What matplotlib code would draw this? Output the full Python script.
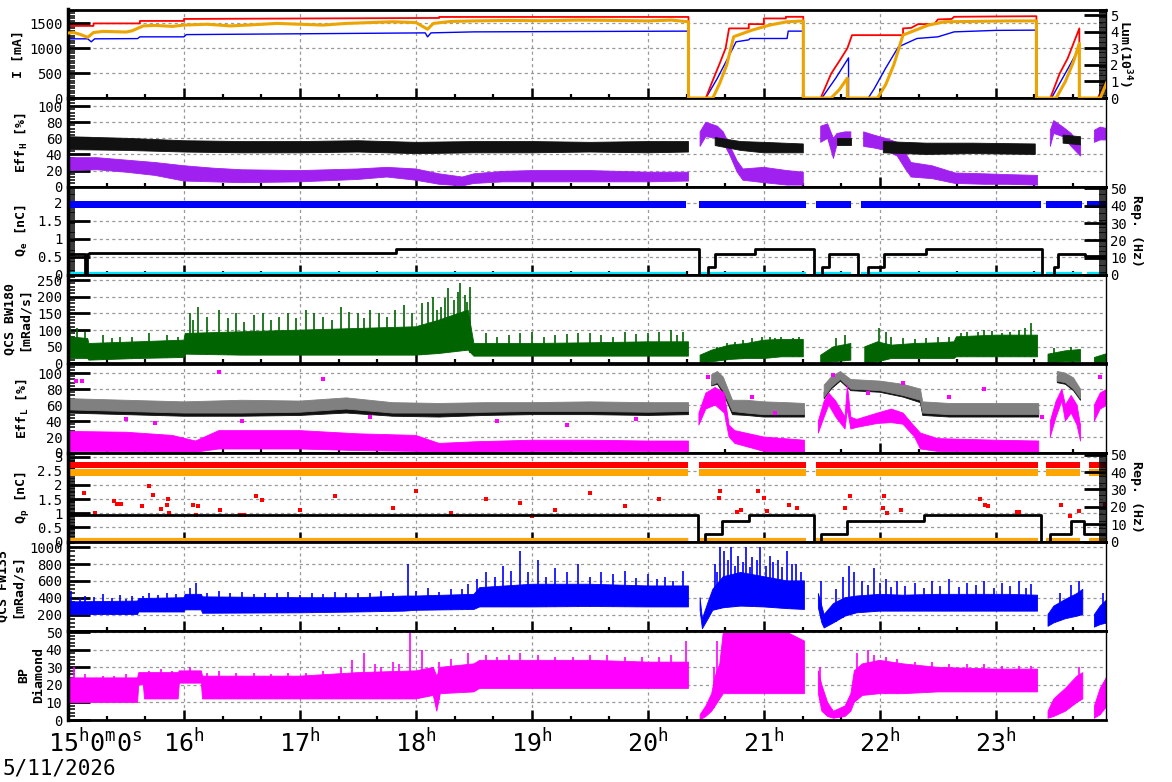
import matplotlib.pyplot as plt
import numpy as np
from matplotlib.ticker import MultipleLocator, FormatStrFormatter

plt.rcParams['font.family'] = ['DejaVu Sans Mono', 'DejaVu Sans']
plt.rcParams['mathtext.fontset'] = 'custom'
plt.rcParams['mathtext.rm'] = 'DejaVu Sans Mono'
plt.rcParams['mathtext.it'] = 'DejaVu Sans Mono:italic'
plt.rcParams['mathtext.bf'] = 'DejaVu Sans Mono:bold'

nan = np.nan

# ---------------- data (time in hours, 5/11/2026) ----------------
hours = [15, 16, 17, 18, 19, 20, 21, 22, 23]
hour_labels = ['', r'$\mathrm{16^{h}}$', r'$\mathrm{17^{h}}$', r'$\mathrm{18^{h}}$', r'$\mathrm{19^{h}}$',
               r'$\mathrm{20^{h}}$', r'$\mathrm{21^{h}}$', r'$\mathrm{22^{h}}$', r'$\mathrm{23^{h}}$']

# beam currents [mA]
ler_t = [15.0, 15.22, 15.22, 15.62, 15.62, 16.0, 16.0, 18.2, 18.2, 20.35, 20.35, 20.50, 20.55, 20.62, 20.67,
         20.70, 20.87, 20.87, 21.0, 21.0, 21.19, 21.19, 21.34, 21.34, 21.49, 21.58, 21.65, 21.72, 21.76, 22.2,
         22.2, 22.27, 22.33, 22.47, 22.5, 22.62, 22.64, 23.0, 23.35, 23.35, 23.47, 23.55, 23.62, 23.72, 23.72,
         23.88, 23.96]
ler_i = [1450, 1450, 1500, 1500, 1550, 1550, 1590, 1610, 1630, 1630, 0, 0, 300, 700, 1000, 1400, 1400, 1486,
         1486, 1600, 1600, 1633, 1633, 0, 0, 490, 740, 1000, 1264, 1264, 1400, 1410, 1486, 1486, 1580, 1590,
         1633, 1640, 1645, 0, 0, 490, 800, 1400, 0, 0, 410]
her_t = [15.0, 15.17, 15.2, 15.23, 15.6, 15.62, 16.0, 16.02, 17.5, 18.08, 18.1, 18.13, 18.5, 20.35, 20.35,
         20.5, 20.6, 20.7, 20.76, 20.87, 20.88, 21.2, 21.21, 21.34, 21.34, 21.5, 21.62, 21.73, 21.73, 21.90,
         21.95, 22.05, 22.16, 22.32, 22.5, 22.64, 23.0, 23.35, 23.35, 23.48, 23.6, 23.72, 23.72, 23.88, 23.96]
her_i = [1190, 1190, 1130, 1190, 1195, 1230, 1230, 1275, 1300, 1310, 1230, 1310, 1330, 1345, 0, 0, 400, 850,
         1130, 1170, 1197, 1197, 1345, 1345, 0, 0, 400, 807, 0, 0, 180, 600, 1028, 1197, 1230, 1330, 1360,
         1365, 0, 0, 500, 1007, 0, 0, 330]
# luminosity [10^34]
lum_t = [15.0, 15.05, 15.1, 15.17, 15.22, 15.3, 15.4, 15.5, 15.55, 15.65, 15.75, 15.9, 16.0, 16.2, 16.4, 16.6,
         16.8, 17.0, 17.2, 17.4, 17.6, 17.8, 18.0, 18.1, 18.15, 18.3, 18.5, 18.8, 19.1, 19.4, 19.7, 20.0, 20.2,
         20.35, 20.35, 20.56, 20.62, 20.68, 20.74, 20.9, 21.05, 21.2, 21.34, 21.34, 21.58, 21.65, 21.72, 21.72,
         21.98, 22.05, 22.12, 22.2, 22.42, 22.56, 22.8, 23.1, 23.35, 23.35, 23.52, 23.6, 23.67, 23.72, 23.72,
         23.9, 23.96]
lum = [3.92, 3.95, 3.85, 3.66, 3.95, 4.02, 4.0, 3.98, 4.05, 4.35, 4.38, 4.32, 4.4, 4.45, 4.35, 4.42, 4.5,
       4.45, 4.4, 4.5, 4.55, 4.6, 4.55, 4.15, 4.5, 4.62, 4.65, 4.68, 4.66, 4.7, 4.68, 4.65, 4.7, 4.6, 0, 0,
       0.9, 2.0, 3.7, 4.1, 4.4, 4.6, 4.65, 0, 0, 0.5, 1.2, 0, 0, 0.8, 2.0, 3.8, 4.4, 4.6, 4.62, 4.65, 4.65,
       0, 0, 1.0, 2.2, 3.3, 0, 0, 1.0]

# HER injection efficiency [%] (black / purple bands)
ehk_t = [15.0, 15.5, 16.0, 16.5, 17.0, 17.5, 18.0, 18.5, 19.0, 19.5, 20.0, 20.35, 20.4, 20.58, 20.8, 21.0,
         21.34, 21.5, 21.63, 21.75, 21.9, 22.03, 22.4, 22.8, 23.34, 23.45, 23.58, 23.73]
ehk_lo = [46, 45, 43, 42, 42, 43, 41, 42, 42, 43, 42, 43, nan, 51, 45, 42, 42, nan, 52, 52, nan, 42, 40, 41,
          40, nan, 54, 52]
ehk_hi = [62, 60, 57, 56, 56, 57, 55, 56, 56, 55, 56, 56, nan, 61, 56, 55, 53, nan, 60, 60, nan, 56, 54, 54,
          53, nan, 64, 62]
ehp_t = [15.0, 15.25, 15.5, 15.75, 16.0, 16.25, 16.5, 17.0, 17.5, 17.75, 18.0, 18.2, 18.4, 18.5, 18.75, 19.0,
         19.5, 20.0, 20.35, 20.4, 20.45, 20.5, 20.6, 20.65, 20.71, 20.77, 20.82, 21.0, 21.2, 21.34, 21.4, 21.49,
         21.55, 21.6, 21.63, 21.7, 21.75, 21.8, 21.86, 21.95, 22.05, 22.15, 22.22, 22.27, 22.45, 22.65, 22.9,
         23.1, 23.36, 23.4, 23.47, 23.5, 23.58, 23.65, 23.73, 23.8, 23.85, 23.9, 23.96]
ehp_lo = [20, 21, 18, 14, 7, 6, 5, 6, 9, 12, 8, 3, 1, 4, 6, 6, 6, 6, 7, nan, 50, 62, 60, 55, 38, 18, 8, 5, 2,
          2, nan, 55, 60, 35, 52, 52, 55, nan, 50, 48, 45, 38, 22, 12, 10, 4, 3, 3, 2, nan, 50, 66, 62, 50, 38,
          nan, 55, 58, 58]
ehp_hi = [36, 36, 33, 30, 26, 23, 21, 20, 22, 24, 22, 16, 12, 16, 19, 20, 20, 18, 18, nan, 68, 80, 75, 68, 50,
          32, 22, 24, 20, 18, nan, 75, 78, 60, 66, 68, 68, nan, 68, 64, 60, 55, 42, 30, 26, 17, 16, 15, 14, nan,
          70, 82, 74, 66, 52, nan, 70, 74, 72]

# e- bunch charge [nC] and injection repetition [Hz]
qe_on_start = [15.0, 20.44, 21.45, 21.84, 23.43, 23.79]
qe_on_end = [20.33, 21.36, 21.75, 23.39, 23.74, 23.96]
qe_lo, qe_hi, qe_cyan = 1.85, 2.05, 0.03
rep_e_t = [15.0, 15.15, 15.15, 15.16, 15.16, 15.18, 15.18, 17.83, 17.83, 20.44, 20.44, 20.52, 20.52, 20.58,
           20.58, 20.92, 20.92, 21.43, 21.43, 21.50, 21.50, 21.56, 21.56, 21.81, 21.81, 21.90, 21.90, 22.04,
           22.04, 22.40, 22.40, 23.40, 23.40, 23.50, 23.50, 23.54, 23.54, 23.77, 23.77, 23.95]
rep_e = [12.2, 12.2, 0, 0, 12.2, 12.2, 12.5, 12.5, 14.8, 14.8, 0, 0, 4.4, 4.4, 12, 12, 14.8, 14.8, 0, 0, 4.4,
         4.4, 12, 12, 0, 0, 4.4, 4.4, 12, 12, 14.8, 14.8, 0, 0, 4.4, 4.4, 12, 12, 10.8, 10.8]

# QCS BW180 dose rate [mRad/s]
bw_t = [15.0, 15.17, 15.18, 15.6, 16.0, 16.01, 16.5, 17.0, 17.5, 18.0, 18.2, 18.45, 18.5, 19.0, 19.5, 20.0,
        20.35, 20.4, 20.45, 20.55, 20.7, 20.85, 21.0, 21.15, 21.34, 21.4, 21.49, 21.6, 21.75, 21.8, 21.87, 21.98,
        22.1, 22.3, 22.5, 22.64, 22.66, 23.0, 23.36, 23.4, 23.45, 23.6, 23.73, 23.8, 23.85, 23.96]
bw_lo = [15, 15, 10, 15, 18, 28, 25, 25, 25, 25, 30, 40, 22, 22, 22, 22, 22, nan, 2, 5, 12, 15, 15, 20, 20, nan,
         2, 5, 10, nan, 1, 5, 15, 15, 15, 15, 20, 20, 20, nan, 3, 5, 5, nan, 2, 5]
bw_hi = [80, 75, 60, 65, 70, 90, 95, 100, 105, 110, 130, 160, 60, 60, 62, 65, 65, nan, 25, 40, 55, 60, 70, 72,
         72, nan, 25, 50, 60, nan, 50, 65, 55, 60, 62, 65, 80, 85, 85, nan, 28, 38, 42, nan, 18, 30]
bw_spk_t = [15.02, 15.08, 15.3, 15.45, 15.7, 15.85, 16.05, 16.12, 16.2, 16.3, 16.45, 16.6, 16.75, 16.9, 17.05,
            17.2, 17.35, 17.5, 17.6, 17.75, 17.9, 18.05, 18.15, 18.22, 18.28, 18.33, 18.38, 18.42, 18.47, 18.6,
            18.8, 19.0, 19.2, 19.4, 19.6, 19.8, 20.0, 20.2, 20.3, 20.6, 20.75, 20.9, 21.05, 21.15, 21.25, 21.62,
            21.7, 21.99, 22.05, 22.2, 22.4, 22.6, 22.75, 22.9, 23.05, 23.2, 23.3, 23.5, 23.65]
bw_spk_h = [110, 105, 85, 80, 90, 85, 150, 170, 140, 160, 150, 145, 130, 150, 160, 140, 170, 150, 160, 140, 175,
            180, 200, 170, 225, 190, 240, 205, 230, 90, 85, 95, 85, 90, 85, 95, 90, 100, 95, 50, 65, 75, 80, 78,
            75, 75, 85, 105, 95, 75, 75, 80, 95, 100, 90, 100, 120, 45, 50]
bw_spk2_t = [15.15, 15.38, 15.55, 15.95, 16.08, 16.38, 16.52, 16.68, 16.82, 16.97, 17.12, 17.28, 17.42, 17.55,
             17.68, 17.82, 17.97, 18.1, 18.18, 18.25, 18.36, 18.44, 18.7, 18.9, 19.1, 19.3, 19.5, 19.7, 19.9,
             20.1, 20.25, 20.68, 20.82, 20.98, 21.1, 21.3, 22.1, 22.3, 22.5, 22.7, 22.85, 22.97, 23.12, 23.25]
bw_spk2_h = [95, 75, 80, 80, 130, 135, 125, 150, 140, 135, 150, 130, 155, 135, 150, 160, 150, 185, 160, 195,
             215, 185, 80, 90, 80, 88, 92, 80, 88, 95, 85, 60, 70, 78, 75, 78, 80, 72, 78, 90, 95, 98, 95, 105]

# LER injection efficiency [%]
elg_t = [15.0, 15.5, 16.0, 16.5, 17.0, 17.4, 17.8, 18.2, 18.6, 19.0, 19.5, 20.0, 20.35, 20.45, 20.55, 20.6,
         20.65, 20.73, 20.85, 21.0, 21.2, 21.35, 21.45, 21.52, 21.58, 21.66, 21.75, 22.0, 22.2, 22.35, 22.37,
         22.6, 23.0, 23.37, 23.45, 23.53, 23.6, 23.67, 23.73]
elg_lo = [54, 52, 50, 50, 51, 55, 50, 50, 51, 52, 52, 51, 52, nan, 85, 88, 78, 52, 50, 48, 48, 48, nan, 70, 82,
          92, 80, 78, 72, 66, 50, 48, 48, 48, nan, 90, 88, 80, 68]
elg_hi = [68, 66, 64, 66, 65, 69, 63, 62, 63, 63, 64, 63, 63, nan, 98, 102, 95, 66, 66, 64, 63, 62, nan, 85, 95,
          102, 92, 90, 86, 80, 64, 62, 62, 62, nan, 102, 100, 94, 80]
elk_lo = [50, 48, 46, 46, 47, 50, 46, 45, 47, 48, 48, 47, 48, nan, 84, 86, 75, 48, 47, 45, 45, 45, nan, 68, 80,
          90, 78, 76, 70, 63, 47, 45, 45, 45, nan, 88, 86, 78, 66]
elk_hi = [58, 57, 55, 55, 56, 60, 55, 54, 56, 57, 57, 56, 57, nan, 90, 93, 85, 57, 56, 54, 54, 54, nan, 76, 88,
          96, 86, 84, 78, 72, 56, 54, 54, 54, nan, 96, 94, 86, 74]
elm_t = [15.0, 15.5, 15.9, 16.1, 16.3, 17.0, 17.5, 18.0, 18.2, 18.5, 19.0, 19.5, 20.0, 20.35, 20.4, 20.44, 20.5,
         20.58, 20.66, 20.7, 20.75, 21.0, 21.35, 21.42, 21.47, 21.52, 21.56, 21.62, 21.7, 21.72, 21.75, 21.8,
         21.98, 22.1, 22.2, 22.3, 22.35, 22.5, 23.0, 23.37, 23.42, 23.47, 23.52, 23.57, 23.6, 23.65, 23.7, 23.73,
         23.8, 23.85, 23.9, 23.96]
elm_lo = [2, 2, 1, 1, 5, 5, 3, 2, 1, 1, 2, 2, 2, 2, nan, 35, 55, 60, 50, 20, 12, 2, 1, nan, 25, 45, 60, 45, 30,
          55, 30, 32, 37, 38, 36, 20, 5, 2, 1, 1, nan, 20, 45, 65, 40, 50, 35, 15, nan, 40, 55, 60]
elm_hi = [27, 26, 22, 15, 28, 28, 24, 22, 12, 14, 16, 16, 15, 15, nan, 50, 75, 82, 75, 35, 28, 20, 16, nan, 40,
          65, 75, 65, 45, 85, 45, 42, 50, 55, 50, 33, 25, 18, 16, 15, nan, 40, 65, 80, 60, 72, 60, 35, nan, 60,
          75, 80]
elm_out_t = [15.07, 15.12, 15.5, 15.75, 16.3, 16.5, 17.2, 17.6, 18.7, 19.3, 19.9, 20.52, 20.9, 21.1, 21.6, 21.9,
             22.2, 22.6, 22.9, 23.4, 23.9]
elm_out_v = [90, 90, 42, 38, 101, 40, 92, 45, 40, 35, 42, 95, 70, 50, 98, 75, 88, 70, 80, 45, 95]

# e+ bunch charge [nC] and repetition [Hz]
qp_on_start = [15.0, 20.44, 21.45, 23.43, 23.80]
qp_on_end = [20.35, 21.36, 23.36, 23.73, 23.96]
qp_red_lo, qp_red_hi = 2.6, 2.8
qp_org_lo, qp_org_hi = 2.3, 2.56
qp_base = 0.05
rep_p_t = [15.0, 20.43, 20.43, 20.49, 20.49, 20.64, 20.64, 20.87, 20.87, 21.43, 21.43, 21.49, 21.49, 21.715,
           21.715, 22.385, 22.385, 23.39, 23.39, 23.47, 23.47, 23.65, 23.65, 23.76, 23.76, 23.95]
rep_p = [15, 15, 0, 0, 4.4, 4.4, 12.1, 12.1, 15, 15, 0, 0, 4.4, 4.4, 12.1, 12.1, 15, 15, 0, 0, 4.4, 4.4, 12.1,
         12.1, 4.4, 4.4]
qpr_t = [15.14, 15.23, 15.4, 15.42, 15.46, 15.64, 15.7, 15.73, 15.8, 15.85, 15.86, 15.87, 16.08, 16.1, 16.12,
         16.31, 16.48, 16.52, 16.62, 16.67, 17.0, 17.3, 17.8, 18.0, 18.3, 18.6, 18.9, 19.0, 19.2, 19.5, 19.8,
         20.1, 20.61, 20.62, 20.77, 20.8, 20.95, 21.0, 21.03, 21.22, 21.29, 21.7, 21.74, 22.03, 22.04, 22.06,
         22.18, 22.86, 22.91, 22.93, 23.18, 23.2, 23.56, 23.64, 23.72, 23.94]
qpr_v = [1.71, 1.0, 1.45, 1.33, 1.33, 1.24, 1.95, 1.65, 1.15, 1.3, 1.5, 1.0, 1.3, 0.94, 1.25, 1.1, 0.95, 0.95,
         1.6, 1.47, 1.1, 1.6, 1.2, 1.8, 1.0, 1.5, 1.35, 0.9, 1.1, 1.7, 1.25, 1.5, 1.55, 1.79, 1.03, 1.1, 1.8,
         1.55, 1.08, 1.29, 1.2, 1.17, 1.6, 1.17, 1.6, 1.02, 1.1, 1.5, 1.3, 1.25, 1.05, 1.05, 1.3, 0.9, 1.07, 1.28]

# QCS FW135 dose rate [mRad/s]
fw_t = [15.0, 15.6, 15.61, 16.0, 16.01, 16.15, 16.16, 17.0, 17.5, 17.9, 18.0, 18.5, 18.55, 19.0, 19.5, 20.0,
        20.35, 20.4, 20.45, 20.47, 20.52, 20.56, 20.65, 20.8, 21.0, 21.2, 21.35, 21.42, 21.47, 21.5, 21.52, 21.6,
        21.7, 21.8, 21.9, 22.0, 22.2, 22.5, 22.8, 23.1, 23.36, 23.4, 23.45, 23.5, 23.6, 23.7, 23.75, 23.8, 23.85,
        23.9, 23.96]
fw_lo = [200, 200, 230, 230, 255, 255, 215, 220, 230, 240, 250, 260, 290, 290, 295, 290, 290, nan, 250, 30, 150,
         250, 280, 300, 290, 270, 260, nan, 280, 100, 40, 100, 180, 220, 230, 240, 240, 240, 240, 240, 240, nan,
         60, 100, 150, 180, 200, nan, 50, 80, 100]
fw_hi = [350, 360, 390, 400, 440, 440, 410, 400, 400, 420, 420, 440, 520, 560, 560, 540, 540, nan, 400, 150, 350,
         500, 650, 700, 650, 600, 600, nan, 450, 300, 200, 330, 400, 420, 430, 440, 430, 440, 440, 440, 430, nan,
         200, 300, 380, 450, 500, nan, 200, 300, 380]
fw_spk_t = [15.03, 15.15, 15.3, 15.45, 15.55, 15.7, 15.85, 16.05, 16.1, 16.3, 16.5, 16.7, 16.9, 17.1, 17.3, 17.5,
            17.7, 17.93, 18.1, 18.3, 18.45, 18.6, 18.75, 18.9, 19.05, 19.2, 19.4, 19.6, 19.8, 20.0, 20.15, 20.3,
            20.58, 20.62, 20.66, 20.72, 20.78, 20.85, 20.9, 20.97, 21.05, 21.12, 21.2, 21.28, 21.49, 21.62, 21.68,
            21.73, 21.78, 21.85, 21.95, 22.05, 22.15, 22.3, 22.45, 22.6, 22.75, 22.9, 23.05, 23.2, 23.3, 23.55,
            23.65, 23.72, 23.92]
fw_spk_h = [480, 420, 440, 430, 420, 450, 460, 520, 580, 480, 470, 460, 470, 450, 470, 460, 480, 800, 520, 500,
            560, 700, 780, 960, 850, 750, 800, 700, 720, 680, 650, 720, 800, 1000, 950, 1000, 900, 1000, 880,
            1000, 900, 850, 950, 800, 600, 500, 650, 780, 700, 600, 750, 620, 600, 580, 600, 620, 580, 600, 580,
            600, 560, 450, 550, 600, 450]
fw_spk2_t = [15.1, 15.22, 15.38, 15.5, 15.65, 15.78, 15.93, 16.2, 16.4, 16.6, 16.8, 17.0, 17.2, 17.4, 17.6, 17.8,
             18.0, 18.2, 18.4, 18.53, 18.68, 18.82, 18.97, 19.12, 19.3, 19.5, 19.7, 19.9, 20.08, 20.22, 20.6,
             20.69, 20.75, 20.82, 20.88, 20.94, 21.02, 21.08, 21.16, 21.24, 21.32, 21.9, 22.0, 22.1, 22.22, 22.38,
             22.52, 22.68, 22.83, 22.98, 23.12, 23.26]
fw_spk2_h = [400, 410, 400, 390, 420, 430, 440, 460, 450, 440, 450, 430, 440, 450, 450, 460, 480, 470, 500, 620,
             650, 720, 700, 650, 700, 650, 680, 640, 620, 600, 700, 850, 780, 820, 760, 850, 780, 820, 760, 800,
             700, 550, 580, 530, 540, 520, 540, 530, 550, 520, 540, 520]

# BP diamond
bp_t = [15.0, 15.6, 15.61, 15.65, 15.66, 15.95, 15.96, 16.15, 16.16, 17.0, 17.5, 18.0, 18.15, 18.18, 18.21, 18.5,
        18.55, 19.0, 19.5, 20.0, 20.35, 20.4, 20.45, 20.5, 20.55, 20.58, 20.62, 20.65, 20.8, 21.0, 21.2, 21.35,
        21.42, 21.47, 21.5, 21.55, 21.6, 21.7, 21.75, 21.78, 21.85, 22.0, 22.2, 22.5, 23.0, 23.36, 23.4, 23.45,
        23.5, 23.6, 23.7, 23.75, 23.8, 23.85, 23.9, 23.96]
bp_lo = [10, 10, 20, 20, 12, 12, 21, 21, 12, 12, 12, 12, 14, 5, 15, 16, 18, 18, 18, 18, 18, nan, 0, 2, 5, 8, 12,
         15, 15, 15, 15, 15, nan, 15, 5, 2, 1, 2, 5, 10, 14, 15, 15, 16, 16, 16, nan, 1, 2, 5, 10, 12, nan, 1, 3, 8]
bp_hi = [24, 24, 27, 27, 27, 27, 28, 28, 25, 25, 27, 28, 30, 25, 30, 32, 34, 34, 34, 33, 33, nan, 3, 8, 15, 25,
         32, 50, 51, 51, 50, 45, nan, 28, 20, 10, 5, 8, 15, 28, 32, 34, 32, 30, 29, 29, nan, 5, 12, 18, 25, 27,
         nan, 8, 18, 25]
bp_spk_t = [15.05, 15.3, 15.5, 15.8, 16.05, 16.3, 16.6, 16.9, 17.2, 17.45, 17.55, 17.7, 17.85, 17.95, 18.05,
            18.3, 18.45, 18.7, 18.9, 19.2, 19.5, 19.8, 20.1, 20.33, 20.57, 20.6, 21.48, 21.8, 21.9, 22.05, 22.3,
            22.6, 22.9, 23.2, 23.72]
bp_spk_h = [30, 25, 26, 29, 30, 28, 27, 27, 28, 34, 38, 30, 32, 50, 40, 35, 38, 36, 38, 36, 37, 36, 36, 45, 30,
            45, 30, 38, 40, 36, 33, 32, 32, 31, 30]
bp_spk2_t = [15.15, 15.4, 15.7, 15.9, 16.2, 16.45, 16.75, 17.05, 17.35, 17.65, 17.8, 18.2, 18.6, 18.8, 19.05,
             19.35, 19.65, 19.95, 20.2, 21.95, 22.15, 22.45, 22.75, 23.05, 23.3]
bp_spk2_h = [26, 25, 28, 28, 27, 27, 26, 27, 30, 32, 33, 33, 37, 37, 37, 36, 37, 36, 37, 37, 35, 33, 32, 31, 31]

# ---------------- figure ----------------
W, H = 1172, 782
fig = plt.figure(figsize=(W / 100, H / 100), dpi=100)
x0, x1 = 68, 1106
edges = [9.5, 98, 186.7, 275, 363.5, 453, 541.5, 630.5, 720]
axes = []
for i in range(8):
    top, bot = edges[i], edges[i + 1]
    axes.append(fig.add_axes([x0 / W, 1 - bot / H, (x1 - x0) / W, (bot - top) / H]))


def style(ax, major, minor, ylim, label, lx):
    ax.set_xlim(15, 23.95)
    ax.set_ylim(*ylim)
    ax.set_axisbelow(True)
    ax.yaxis.set_major_locator(MultipleLocator(major))
    ax.yaxis.set_minor_locator(MultipleLocator(minor))
    ax.yaxis.set_major_formatter(FormatStrFormatter('%g'))
    ax.xaxis.set_major_locator(MultipleLocator(1))
    ax.xaxis.set_minor_locator(MultipleLocator(1 / 3))
    ax.tick_params(axis='y', which='major', direction='in', length=16, width=2, labelsize=10, pad=4, right=False)
    ax.tick_params(axis='y', which='minor', direction='in', length=5, width=1.1, right=False)
    ax.tick_params(axis='x', which='major', direction='in', length=7, width=1.8, top=False, labelbottom=False)
    ax.tick_params(axis='x', which='minor', direction='in', length=3, width=1.6, top=False)
    ax.grid(True, which='major', color='#999999', ls=(0, (2.5, 2.5)), lw=0.9)
    ax.spines['top'].set_linewidth(2)
    ax.spines['bottom'].set_linewidth(2)
    ax.spines['left'].set_linewidth(2.5)
    ax.spines['right'].set_linewidth(1)
    ax.set_ylabel(label, fontsize=9.5, fontweight='bold', va='center', ha='center')
    ax.yaxis.set_label_coords((lx - x0) / (x1 - x0), 0.5)


def twin(ax, major, minor, ylim, label, lx):
    tw = ax.twinx()
    tw.set_ylim(*ylim)
    tw.yaxis.set_major_locator(MultipleLocator(major))
    tw.yaxis.set_minor_locator(MultipleLocator(minor))
    tw.yaxis.set_major_formatter(FormatStrFormatter('%g'))
    tw.tick_params(axis='y', which='major', direction='in', length=16, width=2, labelsize=10, pad=3, left=False)
    tw.tick_params(axis='y', which='minor', direction='in', length=5, width=1.1, left=False)
    for s in tw.spines.values():
        s.set_visible(False)
    tw.set_ylabel(label, rotation=270, fontsize=9.5, fontweight='bold', va='center', ha='center')
    tw.yaxis.set_label_coords((lx - x0) / (x1 - x0), 0.5)
    return tw


def band(ax, t, lo, hi, color):
    ax.fill_between(t, lo, hi, color=color, lw=0.6, edgecolor=color)


def spikes(ax, t, h, bt, blo, color):
    good = ~np.isnan(np.array(blo, dtype=float))
    base = np.interp(t, np.array(bt)[good], np.array(blo, dtype=float)[good])
    ax.vlines(t, base, h, color=color, lw=1.2)


# panel 1: currents and luminosity
ax = axes[0]
style(ax, 500, 50, (0, 1780), 'I [mA]', 18.5)
ax.plot(her_t, her_i, color='#0000ff', lw=1)
ax.plot(ler_t, ler_i, color='#ff0000', lw=1.3)
tw = twin(ax, 1, 0.1, (0, 5.34), r'Lum(10$^{\mathbf{34}}$)', 1125)
tw.plot(lum_t, lum, color='#eca400', lw=2.2)

# panel 2: HER efficiency
ax = axes[1]
style(ax, 20, 4, (0, 110), r'Eff$_{\mathbf{H}}$ [%]', 22)
band(ax, ehp_t, ehp_lo, ehp_hi, '#a020f0')
band(ax, ehk_t, ehk_lo, ehk_hi, '#111111')

# panel 3: e- charge and rep rate
ax = axes[2]
style(ax, 0.5, 0.05, (0, 2.44), r'Q$_{\mathbf{e}}$ [nC]', 22)
for s, e in zip(qe_on_start, qe_on_end):
    ax.fill_between([s, e], [qe_lo, qe_lo], [qe_hi, qe_hi], color='#0000ff', lw=0)
    ax.plot([s, e], [qe_cyan, qe_cyan], color='#00e5ff', lw=3, solid_capstyle='butt')
tw = twin(ax, 10, 1, (0, 51), 'Rep. (Hz)', 1136)
tw.plot(rep_e_t, rep_e, color='black', lw=2)

# panel 4: QCS BW180
ax = axes[3]
style(ax, 50, 10, (0, 265), 'QCS BW180\n[mRad/s]', 17)
band(ax, bw_t, bw_lo, bw_hi, '#006400')
spikes(ax, bw_spk_t, bw_spk_h, bw_t, bw_lo, '#006400')
spikes(ax, bw_spk2_t, bw_spk2_h, bw_t, bw_lo, '#006400')

# panel 5: LER efficiency
ax = axes[4]
style(ax, 20, 4, (0, 112), r'Eff$_{\mathbf{L}}$ [%]', 23)
band(ax, elg_t, elk_lo, elk_hi, '#111111')
band(ax, elg_t, elg_lo, elg_hi, '#808080')
band(ax, elm_t, elm_lo, elm_hi, '#ff00ff')
ax.scatter(elm_out_t, elm_out_v, s=5, marker='s', color='#ff00ff', lw=0)

# panel 6: e+ charge and rep rate
ax = axes[5]
style(ax, 0.5, 0.05, (0, 3.13), r'Q$_{\mathbf{p}}$ [nC]', 23)
for s, e in zip(qp_on_start, qp_on_end):
    ax.fill_between([s, e], [qp_red_lo] * 2, [qp_red_hi] * 2, color='#ff0000', lw=0)
    ax.fill_between([s, e], [qp_org_lo] * 2, [qp_org_hi] * 2, color='#ffa500', lw=0)
    ax.plot([s, e], [qp_base, qp_base], color='#ffa500', lw=3, solid_capstyle='butt')
ax.scatter(qpr_t, qpr_v, s=6, marker='s', color='#ff0000', lw=0)
tw = twin(ax, 10, 1, (0, 51), 'Rep. (Hz)', 1136)
tw.plot(rep_p_t, rep_p, color='black', lw=2)

# panel 7: QCS FW135
ax = axes[6]
style(ax, 200, 50, (10, 1068), 'QCS FW135\n[mRad/s]', 10)
band(ax, fw_t, fw_lo, fw_hi, '#0000ff')
spikes(ax, fw_spk_t, fw_spk_h, fw_t, fw_lo, '#0000ff')
spikes(ax, fw_spk2_t, fw_spk2_h, fw_t, fw_lo, '#0000ff')

# panel 8: BP diamond
ax = axes[7]
style(ax, 10, 2, (0, 51), 'BP\nDiamond', 31)
band(ax, bp_t, bp_lo, bp_hi, '#ff00ff')
spikes(ax, bp_spk_t, bp_spk_h, bp_t, bp_lo, '#ff00ff')
spikes(ax, bp_spk2_t, bp_spk2_h, bp_t, bp_lo, '#ff00ff')
ax.set_xticks(hours)
ax.set_xticklabels(hour_labels)
ax.tick_params(axis='x', labelbottom=True, labelsize=18, pad=6)
ax.annotate(r'$\mathrm{15^{h}0^{m}0^{s}}$', xy=(15, 0), xycoords=('data', 'axes fraction'),
            xytext=(-14.4, -6), textcoords='offset points', ha='left', va='top', fontsize=18,
            annotation_clip=False)

fig.text(2 / W, 4 / H, '5/11/2026', fontsize=15, ha='left', va='bottom')

fig.savefig('out.png', dpi=100)
